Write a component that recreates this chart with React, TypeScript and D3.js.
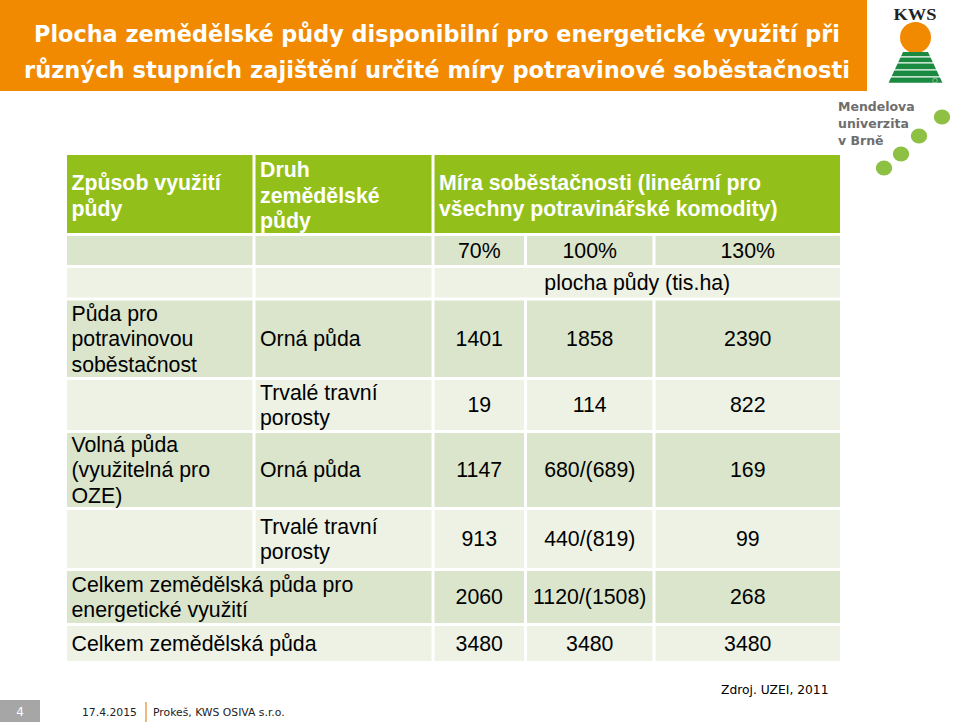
import React from "react";
import * as d3 from "d3";

// ---------- data ----------
const titleLines = [
  "Plocha zemědělské půdy disponibilní pro energetické využití při",
  "různých stupních zajištění určité míry potravinové soběstačnosti",
];
const headerLabels = [
  "Způsob využití\npůdy",
  "Druh\nzemědělské\npůdy",
  "Míra soběstačnosti (lineární pro\nvšechny potravinářské komodity)",
];
const scenarioLabels = ["70%", "100%", "130%"];
const unitLabel = "plocha půdy (tis.ha)";
const groupLabels = [
  "Půda pro\npotravinovou\nsoběstačnost",
  "",
  "Volná půda\n(využitelná pro\nOZE)",
  "",
  "Celkem zemědělská půda pro\nenergetické využití",
  "Celkem zemědělská půda",
];
const landTypes = ["Orná půda", "Trvalé travní\nporosty", "Orná půda", "Trvalé travní\nporosty", "", ""];
const values70 = ["1401", "19", "1147", "913", "2060", "3480"];
const values100 = ["1858", "114", "680/(689)", "440/(819)", "1120/(1508)", "3480"];
const values130 = ["2390", "822", "169", "99", "268", "3480"];
const sourceNote = "Zdroj. UZEI, 2011";
const footerDate = "17.4.2015";
const footerAuthor = "Prokeš, KWS OSIVA s.r.o.";
const slideNumber = "4";
const universityLines = ["Mendelova", "univerzita", "v Brně"];
const kwsLabel = "KWS";

// ---------- layout ----------
const colEdges = [67, 254, 433, 525.5, 654, 840];
const rowEdges = [155, 234.5, 266.5, 299, 378.5, 431.5, 508.5, 569.5, 624.5, 661];
const GAP = 3;
const FS = 21.3;
const LH = 25.5;
const BODY_FONT = "'Liberation Sans', Arial, sans-serif";
const VER_FONT = "'DejaVu Sans', Verdana, sans-serif";
const C = {
  orange: "#F18A00",
  header: "#93BF1A",
  dark: "#DAE5CB",
  light: "#EDF2E5",
  kwsGreen: "#1B8A41",
  dot: "#8DC043",
  gray: "#6E6E6E",
};

const xCol = d3.scaleOrdinal<number, number>().domain(d3.range(colEdges.length)).range(colEdges);
const yRow = d3.scaleOrdinal<number, number>().domain(d3.range(rowEdges.length)).range(rowEdges);

type Cell = { r: number; c0: number; c1: number; text: string; align: "left" | "center"; bold?: boolean; fill: string };

function buildCells(): Cell[] {
  const cells: Cell[] = [];
  cells.push({ r: 0, c0: 0, c1: 1, text: headerLabels[0], align: "left", bold: true, fill: C.header });
  cells.push({ r: 0, c0: 1, c1: 2, text: headerLabels[1], align: "left", bold: true, fill: C.header });
  cells.push({ r: 0, c0: 2, c1: 5, text: headerLabels[2], align: "left", bold: true, fill: C.header });
  cells.push({ r: 1, c0: 0, c1: 1, text: "", align: "left", fill: C.dark });
  cells.push({ r: 1, c0: 1, c1: 2, text: "", align: "left", fill: C.dark });
  scenarioLabels.forEach((s, i) => cells.push({ r: 1, c0: 2 + i, c1: 3 + i, text: s, align: "center", fill: C.dark }));
  cells.push({ r: 2, c0: 0, c1: 1, text: "", align: "left", fill: C.light });
  cells.push({ r: 2, c0: 1, c1: 2, text: "", align: "left", fill: C.light });
  cells.push({ r: 2, c0: 2, c1: 5, text: unitLabel, align: "center", fill: C.light });
  groupLabels.forEach((g, i) => {
    const r = 3 + i;
    const fill = i % 2 === 0 ? C.dark : C.light;
    if (landTypes[i] === "" && g !== "") {
      cells.push({ r, c0: 0, c1: 2, text: g, align: "left", fill });
    } else {
      cells.push({ r, c0: 0, c1: 1, text: g, align: "left", fill });
      cells.push({ r, c0: 1, c1: 2, text: landTypes[i], align: "left", fill });
    }
    [values70, values100, values130].forEach((vals, k) =>
      cells.push({ r, c0: 2 + k, c1: 3 + k, text: vals[i], align: "center", fill })
    );
  });
  return cells;
}

export default function App() {
  const cells = buildCells();
  const nCols = colEdges.length - 1;
  const nRows = rowEdges.length - 1;
  const dotCenters = [
    [942, 117],
    [919, 136],
    [901, 154],
    [884, 168],
  ];
  const stripeY = [52, 57.5, 63.5, 70.5, 77.5, 84];
  const trapTop = 52,
    trapBot = 84;
  const trapX = (y: number, side: number) => {
    const t = (y - trapTop) / (trapBot - trapTop);
    return side < 0 ? 903 + (888 - 903) * t : 928 + (943 - 928) * t;
  };
  return (
    <svg width={960} height={722} style={{ position: "absolute", left: 0, top: 0, background: "#fff" }}>
      <rect x={0} y={0} width={960} height={722} fill="#fff" />
      {/* title bar */}
      <rect x={0} y={0} width={867} height={91} fill={C.orange} />
      {titleLines.map((t, i) => (
        <text
          key={i}
          x={437}
          y={42 + i * 36}
          textAnchor="middle"
          fill="#fff"
          fontFamily={VER_FONT}
          fontWeight="bold"
          fontSize={23}
          textLength={i === 0 ? 806 : 826}
          lengthAdjust="spacingAndGlyphs"
        >
          {t}
        </text>
      ))}

      {/* KWS logo */}
      <text x={915} y={20} textAnchor="middle" fontFamily="'Liberation Serif', 'DejaVu Serif', serif" fontWeight="bold" fontSize={17} textLength={43} lengthAdjust="spacingAndGlyphs" fill="#222">
        {kwsLabel}
      </text>
      <circle cx={915.5} cy={37.5} r={15.5} fill={C.orange} />
      {stripeY.slice(0, -1).map((y0, i) => {
        const y1 = stripeY[i + 1] - 1.3;
        return (
          <polygon
            key={i}
            points={`${trapX(y0, -1)},${y0} ${trapX(y0, 1)},${y0} ${trapX(y1, 1)},${y1} ${trapX(y1, -1)},${y1}`}
            fill={C.kwsGreen}
          />
        );
      })}
      <circle cx={935} cy={80.5} r={2.3} fill="none" stroke="#9fcfa8" strokeWidth={0.8} />

      {/* Mendel university logo */}
      {universityLines.map((t, i) => (
        <text key={i} x={838} y={111 + i * 17} fontFamily={VER_FONT} fontWeight="bold" fontSize={12.5} fill={C.gray}>
          {t}
        </text>
      ))}
      {dotCenters.map(([cx, cy], i) => (
        <ellipse key={i} cx={cx} cy={cy} rx={8.2} ry={7.4} fill={C.dot} />
      ))}

      {/* table */}
      {cells.map((cell, i) => {
        const x0 = xCol(cell.c0) + (cell.c0 > 0 ? GAP / 2 : 0);
        const x1 = xCol(cell.c1) - (cell.c1 < nCols ? GAP / 2 : 0);
        const y0 = yRow(cell.r) + (cell.r > 0 ? GAP / 2 : 0);
        const y1 = yRow(cell.r + 1) - (cell.r + 1 < nRows ? GAP / 2 : 0);
        const lines = cell.text ? cell.text.split("\n") : [];
        const cy = (y0 + y1) / 2 + (cell.r === 0 ? 1.5 : 0);
        const tx = cell.align === "center" ? (x0 + x1) / 2 : x0 + 4.5;
        return (
          <g key={i}>
            <rect x={x0} y={y0} width={x1 - x0} height={y1 - y0} fill={cell.fill} />
            {lines.map((ln, j) => (
              <text
                key={j}
                x={tx}
                y={cy + (j - (lines.length - 1) / 2) * LH + 0.35 * FS}
                textAnchor={cell.align === "center" ? "middle" : "start"}
                fontFamily={BODY_FONT}
                fontSize={FS}
                fontWeight={cell.bold ? "bold" : "normal"}
                fill={cell.bold ? "#fff" : "#000"}
              >
                {ln}
              </text>
            ))}
          </g>
        );
      })}

      {/* source note */}
      <text x={721} y={694} fontFamily={VER_FONT} fontSize={12.3} fill="#000">
        {sourceNote}
      </text>

      {/* footer */}
      <rect x={0} y={700} width={40} height={22} fill="#A6A6A6" />
      <text x={20} y={716} textAnchor="middle" fontFamily={VER_FONT} fontSize={12} fill="#fff">
        {slideNumber}
      </text>
      <text x={82} y={716} fontFamily={VER_FONT} fontSize={10.8} fill="#222">
        {footerDate}
      </text>
      <line x1={146} x2={146} y1={702} y2={722} stroke="#E8A450" strokeWidth={1.5} />
      <text x={153} y={716} fontFamily={VER_FONT} fontSize={10.8} fill="#222">
        {footerAuthor}
      </text>
    </svg>
  );
}
